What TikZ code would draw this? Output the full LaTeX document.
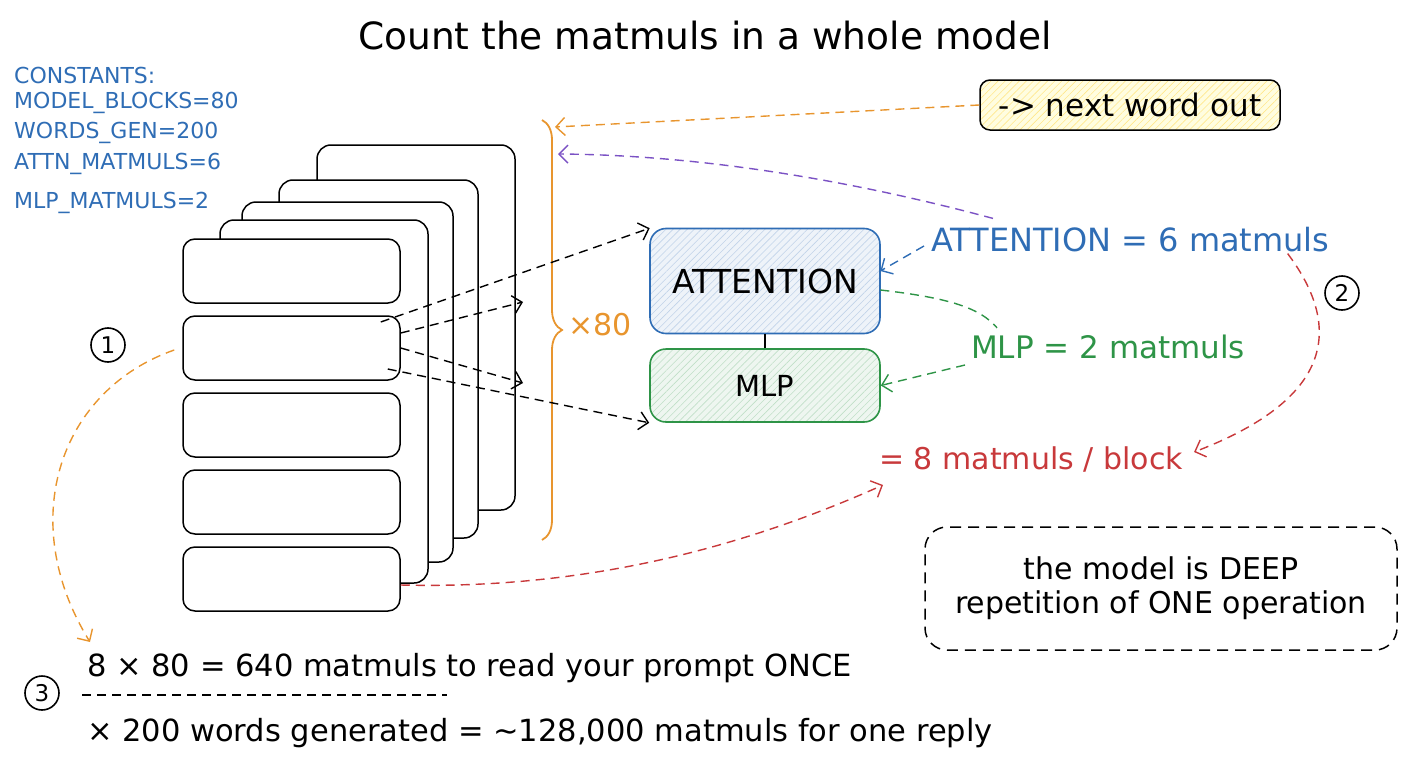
\documentclass[tikz,border=0pt]{standalone}
\usepackage{fontspec}
\setmainfont{DejaVu Sans}
\usetikzlibrary{arrows.meta,patterns.meta,decorations.pathreplacing,positioning}
\definecolor{inkblue}{HTML}{2F6DB5}
\definecolor{inkorange}{HTML}{E8952E}
\definecolor{inkgreen}{HTML}{2E9447}
\definecolor{inkred}{HTML}{C8393B}
\definecolor{inkpurple}{HTML}{7B52C4}
\newcommand\sz[1]{\fontsize{#1}{#1}\selectfont}
\tikzset{
  card/.style={draw, line width=1.5pt, fill=white, rounded corners=14pt},
  row/.style={draw, line width=1.5pt, fill=white, rounded corners=12pt,
    minimum width=217pt, minimum height=64pt, inner sep=0pt},
  flow/.style={dash pattern=on 9pt off 6pt, line width=1.4pt,
    -{Straight Barb[length=9pt,width=18pt]}},
  block/.style={draw, line width=1.6pt, rounded corners=16pt, minimum width=230pt,
    pattern={Lines[angle=45,distance=5pt,line width=0.6pt]}},
  stepnum/.style={draw, circle, line width=1.6pt, minimum size=34pt, inner sep=0pt,
    font={\sz{23}}},
  lbl/.style={anchor=west, inner sep=1pt}
}
\begin{document}
\begin{tikzpicture}[x=1pt,y=-1pt]
\useasboundingbox (0,0) rectangle (1408,768);

\node[font={\sz{37.5}}] (title) at (705,36) {Count the matmuls in a whole model};

\foreach \t/\y [count=\i] in {CONSTANTS:/75, MODEL\_BLOCKS=80/103, WORDS\_GEN=200/133,
  ATTN\_MATMULS=6/164, MLP\_MATMULS=2/203}
  \node[inkblue, anchor=west, inner sep=0pt, font={\sz{22}}] (c\i) at (14,\y) {\t};

% stack of blocks
\foreach \l/\t/\r/\b in {317/145/515/510, 279/180/478/538, 242/202/453/562, 220/220/428/583}
  \draw[card] (\l,\t+40) |- (\r,\t) |- (\l+40,\b);
\foreach \i in {1,...,5}
  \node[row] (row\i) at (291.5,194+77*\i) {};

\draw[inkorange, line width=1.8pt, decorate, decoration={brace, amplitude=20pt}]
  (542,120) -- (542,540);
\coordinate (bracetop) at (555,127);
\coordinate (bracehi) at (558,154);
\node[inkorange, font={\sz{30}}] (times) at (600,325) {×80};

\node[block, draw=inkblue, preaction={fill=inkblue!8}, pattern color=inkblue!30,
  minimum height=105pt, font={\sz{33}}] (attn) at (765,281) {ATTENTION};
\node[block, draw=inkgreen, preaction={fill=inkgreen!8}, pattern color=inkgreen!30,
  minimum height=73pt, font={\sz{29}}] (mlp) at (765,385.5) {MLP};
\draw[line width=1.3pt] (attn.south) -- (mlp.north);

\coordinate (a2end) at (523,302);
\coordinate (a3end) at (523,383);
\draw[flow] ([xshift=-20pt,yshift=26pt]row2.east) -- (attn.north west);
\draw[flow] ([yshift=15pt]row2.east) -- (a2end);
\draw[flow] (row2.east) -- (a3end);
\draw[flow] ([xshift=-13pt,yshift=-21pt]row2.east) -- (mlp.south west);

\node[draw, line width=1.5pt, rounded corners=10pt, minimum width=300pt, minimum height=50pt,
  preaction={fill=yellow!12}, pattern={Lines[angle=45,distance=5pt,line width=0.6pt]},
  pattern color=yellow!60!orange!45, font={\sz{31}}] (nextout) at (1130,105) {-> next word out};

\node[lbl, inkblue, font={\sz{32}}] (attnlbl) at (930,240) {ATTENTION = 6 matmuls};
\node[lbl, inkgreen, font={\sz{31}}] (mlplbl) at (970,347) {MLP = 2 matmuls};
\node[lbl, inkred, font={\sz{30}}] (blocklbl) at (878,459) {= 8 matmuls / block};

\draw[flow, inkorange] (nextout.west) -- (bracetop);
\draw[flow, inkpurple] ([xshift=63pt,yshift=8pt]attnlbl.north west)
  .. controls (850,180) and (700,155) .. (bracehi);
\draw[flow, inkblue] ([xshift=-6pt,yshift=-6pt]attnlbl.west) -- ([yshift=10pt]attn.east);
\draw[inkgreen, dash pattern=on 9pt off 6pt, line width=1.4pt] ([yshift=-9pt]attn.east)
  .. controls (950,298) and (980,308) .. ([xshift=27pt,yshift=6pt]mlplbl.north west);
\draw[flow, inkgreen] ([xshift=-5pt,yshift=-18pt]mlplbl.west) -- (mlp.east);
\draw[flow, inkred] ([xshift=-43pt,yshift=0pt]attnlbl.south east)
  .. controls (1345,330) and (1330,400) .. ([xshift=10pt,yshift=7pt]blocklbl.east);
\coordinate (blockin) at (883,485);
\draw[flow, inkred] ([yshift=-6pt]row5.east) .. controls (600,590) and (760,540) .. (blockin);

\node[stepnum] (n1) at (108,345) {1};
\node[stepnum] (n2) at (1342,293) {2};
\node[stepnum] (n3) at (42,693) {3};

\node[lbl, font={\sz{30.5}}] (line1) at (86,668) {8 × 80 = 640 matmuls to read your prompt ONCE};
\node[lbl, font={\sz{30.5}}] (line2) at (86,733) {× 200 words generated = \textasciitilde128,000 matmuls for one reply};
\draw[line width=1.4pt, dash pattern=on 9pt off 6pt] (82,695) -- (447,695);
\coordinate (line1top) at (90,642);
\draw[flow, inkorange] ([xshift=-8pt,yshift=-2pt]row2.west)
  .. controls (60,390) and (15,520) .. (line1top);

\node[draw, line width=1.5pt, dash pattern=on 11pt off 7pt, rounded corners=22pt,
  minimum width=472pt, minimum height=123pt, align=center, font={\sz{30}}]
  (note) at (1161,588.5) {the model is DEEP\\[4pt]repetition of ONE operation};
\end{tikzpicture}
\end{document}
